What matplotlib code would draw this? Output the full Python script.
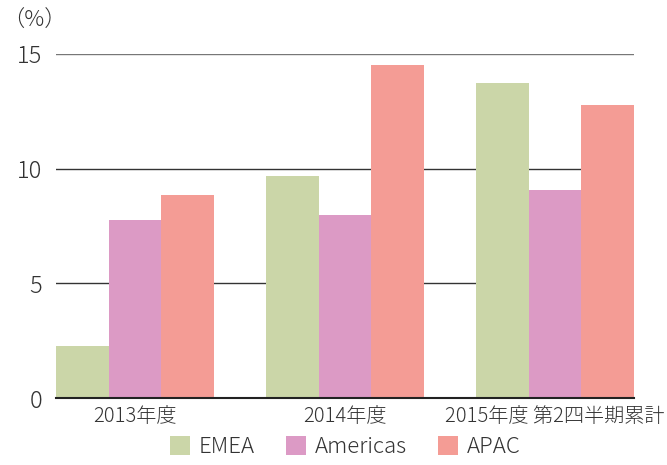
import numpy as np
import matplotlib
matplotlib.use("Agg")
import matplotlib.pyplot as plt

plt.rcParams['font.family'] = ['Noto Sans CJK JP', 'DejaVu Sans']
plt.rcParams['font.weight'] = 'light'

categories = ["2013年度", "2014年度", "2015年度 第2四半期累計"]
series_names = ["EMEA", "Americas", "APAC"]
emea = [2.27, 9.68, 13.74]
americas = [7.76, 7.98, 9.07]
apac = [8.85, 14.52, 12.78]
colors = ["#cbd6a8", "#dc9ac5", "#f49c95"]

fig = plt.figure(figsize=(6.67, 4.65), dpi=100)
ax = fig.add_axes([0.084, 0.144, 0.8665, 0.74])

x = np.arange(len(categories))
w = 0.25
for i, (vals, name) in enumerate(zip([emea, americas, apac], series_names)):
    ax.bar(x + (i - 1) * w, vals, width=w, color=colors[i], label=name, zorder=2)

ax.set_xlim(-1.5 * w, 2 + 1.5 * w)
ax.set_ylim(0, 15)
ax.set_yticks([0, 5, 10, 15])
ax.set_yticklabels(["0", "5", "10", "15"], fontsize=17)
ax.set_xticks(x)
ax.set_xticklabels(categories, fontsize=14.5)
for y, c in [(5, "#333333"), (10, "#333333"), (15, "#777777")]:
    ax.axhline(y, color=c, linewidth=1.0, zorder=1)

for s in ["top", "right", "left"]:
    ax.spines[s].set_visible(False)
ax.spines["bottom"].set_color("#222222")
ax.spines["bottom"].set_linewidth(1.5)
ax.spines["bottom"].set_zorder(3)
ax.tick_params(axis="both", length=0, colors="#333333")
ax.tick_params(axis="y", pad=10)
ax.tick_params(axis="x", pad=6)

fig.text(0.003, 0.955, "（%）", fontsize=16, color="#333333", ha="left", va="center")

ax.legend(loc="upper center", bbox_to_anchor=(0.5, -0.072), ncol=3, frameon=False,
          fontsize=16, handlelength=0.9, handleheight=0.9, handletextpad=0.4,
          columnspacing=1.4, labelcolor="#333333", borderaxespad=0.2)

fig.savefig("out.png", dpi=100)
